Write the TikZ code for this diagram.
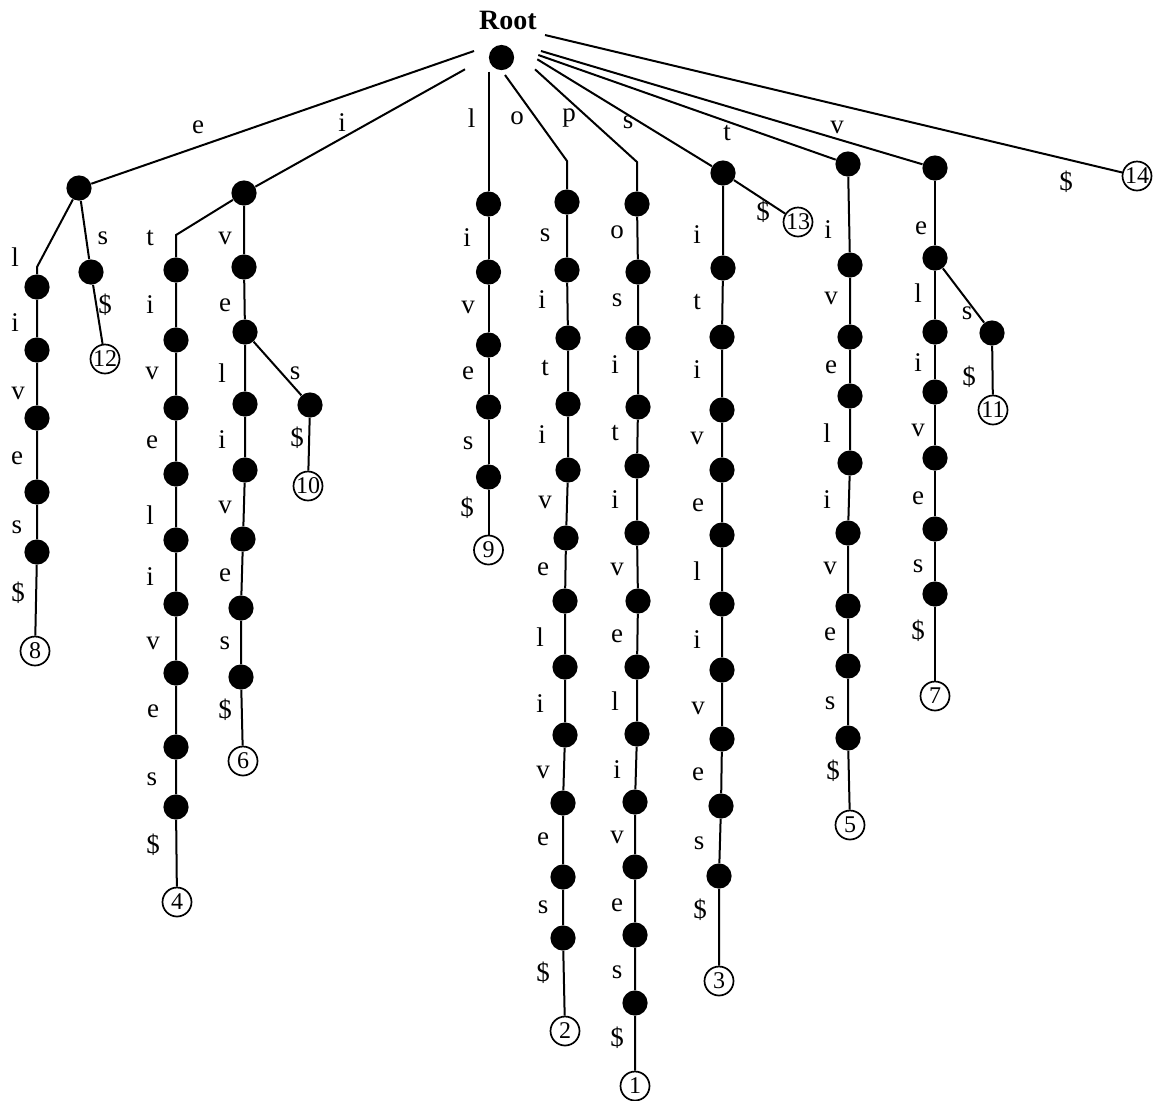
\documentclass[tikz,border=0pt]{standalone}
\usepackage{fontspec}
\setmainfont{Liberation Serif}
\newcommand\leafat[4]{\node[leaf] (#1) at (#2,#3) {}; \node[num] (#1n) at (#1) {#4};}
\begin{document}
\begin{tikzpicture}[x=0.5pt,y=-0.5pt,
  dot/.style={circle,fill=black,inner sep=0pt,minimum size=12.6pt},
  leaf/.style={circle,draw,line width=0.85pt,inner sep=0pt,minimum size=14.5pt},
  lab/.style={inner sep=0pt,font=\fontsize{13.5}{16}\selectfont},
  num/.style={inner sep=0pt,font=\fontsize{12}{14}\selectfont},
  edge/.style={line width=1pt}]
\useasboundingbox (0,0) rectangle (1166,1100);
% root
\node[dot] (R) at (501.5,57.5) {};
\node[inner sep=0pt,font=\fontsize{14}{16}\selectfont\bfseries] (Rt) at (508,20) {Root};
\coordinate (sE) at (474,51);
\coordinate (sI) at (465,69.3);
\coordinate (sL) at (488.5,71.7);
\coordinate (sO) at (505,75);
\coordinate (sP) at (535,69.3);
\coordinate (sS) at (537.3,59.3);
\coordinate (sT) at (538.3,55);
\coordinate (sV) at (541,51);
\coordinate (sD) at (545,35);
% branch nodes
\node[dot] (E) at (79,188) {};
\node[dot] (I) at (244,193) {};
\node[dot] (S) at (723,173) {};
\node[dot] (T) at (848,164) {};
\node[dot] (V) at (935,168) {};
\coordinate (cA) at (37,267);
\coordinate (cC) at (176,235);
\coordinate (cG) at (567,161);
\coordinate (cH) at (637,162);
% root edge labels
\foreach \t/\x/\y [count=\i] in {e/198/127, i/342/123, l/471.7/118, o/517/118, p/569/118, s/628/122, t/727/133, v/837/127, \$/1066/182}
  \node[lab] (RL\i) at (\x,\y) {\t};
% column A
\foreach \n/\x/\y in {1/37/287,2/37/350,3/37/418,4/37/492,5/37/552}
  \node[dot] (A\n) at (\x,\y) {};
\leafat{L8}{35}{651}{8}
\foreach \t/\x/\y [count=\i] in {l/15/257, i/15/323, v/18/393, e/17/458, s/17/527, \$/18/593}
  \node[lab] (AL\i) at (\x,\y) {\t};
% column B
\node[dot] (B1) at (91,272) {};
\leafat{L12}{105}{359}{12}
\node[lab] (BL1) at (103,238) {s};
\node[lab] (BL2) at (105,305) {\$};
% column C
\foreach \n/\y in {1/270,2/340,3/408,4/474,5/540,6/604,7/673,8/747,9/807}
  \node[dot] (C\n) at (176,\y) {};
\leafat{L4}{177}{902}{4}
\foreach \t/\x/\y [count=\i] in {t/150/238, i/150/305, v/152/373, e/152/442, l/150/515, i/150/577, v/153/643, e/153/711, s/152/779, \$/153/845}
  \node[lab] (CL\i) at (\x,\y) {\t};
% column D
\foreach \n/\x/\y in {1/244/267,2/245/332,3/245/404,4/245/470,5/243/539,6/241/608,7/241/677}
  \node[dot] (D\n) at (\x,\y) {};
\leafat{L6}{243}{761}{6}
\foreach \t/\x/\y [count=\i] in {v/225/238, e/225/305, l/222/373, i/222/440, v/225/507, e/225/575, s/225/643, \$/225/710}
  \node[lab] (DL\i) at (\x,\y) {\t};
% column E (s from D2)
\node[dot] (E1) at (310,405) {};
\leafat{L10}{308}{486}{10}
\node[lab] (EL1) at (295,373) {s};
\node[lab] (EL2) at (297,438) {\$};
% column F
\foreach \n/\y in {1/204,2/272,3/345,4/407,5/477}
  \node[dot] (F\n) at (488.5,\y) {};
\leafat{L9}{488.5}{550}{9}
\foreach \t/\x/\y [count=\i] in {i/467/238, v/468/307, e/468/373, s/468/443, \$/467/508}
  \node[lab] (FL\i) at (\x,\y) {\t};
% column G
\foreach \n/\x/\y in {1/567/202,2/567/270,3/568/338,4/568/404,5/568/470,6/566/538,7/565/601,8/565/667,9/565/735,10/563/803,11/563/877,12/563/938}
  \node[dot] (G\n) at (\x,\y) {};
\leafat{L2}{565}{1031}{2}
\foreach \t/\x/\y [count=\i] in {s/545/235, i/542/300, t/545/368, i/542/435, v/545/502, e/543/569, l/540/637, i/540/704, v/543/772, e/543/839, s/543/907, \$/543/973}
  \node[lab] (GL\i) at (\x,\y) {\t};
% column H
\foreach \n/\x/\y in {1/637/204,2/638/272,3/638/338,4/638/407,5/637/466,6/637/533,7/638/601,8/637/667,9/637/734,10/635/802,11/635/867,12/635/935,13/635/1003}
  \node[dot] (H\n) at (\x,\y) {};
\leafat{L1}{635}{1086}{1}
\foreach \t/\x/\y [count=\i] in {o/617/232, s/617/300, i/615/365, t/615/433, i/615/500, v/617/569, e/617/636, l/615/701, i/617/770, v/617/837, e/617/905, s/617/972, \$/617/1038}
  \node[lab] (HL\i) at (\x,\y) {\t};
% column I (from S)
\foreach \n/\x/\y in {1/723/268,2/722/337,3/722/410,4/722/470,5/722/535,6/722/604,7/722/670,8/722/739,9/721/806,10/719/876}
  \node[dot] (I\n) at (\x,\y) {};
\leafat{L3}{719}{981}{3}
\foreach \t/\x/\y [count=\i] in {i/697/235, t/697/302, i/697/370, v/697/438, e/698/505, l/697/571, i/697/640, v/698/708, e/698/774, s/699/843, \$/700/910}
  \node[lab] (IL\i) at (\x,\y) {\t};
\leafat{L13}{798}{222}{13}
\node[lab] (SL1) at (763,212) {\$};
% column J (from T)
\foreach \n/\x/\y in {1/850/265,2/850/337,3/850/396,4/850/463,5/848/533,6/848/606,7/848/666,8/848/738}
  \node[dot] (J\n) at (\x,\y) {};
\leafat{L5}{850}{825}{5}
\foreach \t/\x/\y [count=\i] in {i/828/230, v/831/298, e/831/367, l/827/433, i/827/500, v/830/568, e/830/634, s/830/703, \$/833/771}
  \node[lab] (JL\i) at (\x,\y) {\t};
% column K (from V)
\foreach \n/\y in {1/258,2/332,3/392,4/458,5/529,6/594}
  \node[dot] (K\n) at (935,\y) {};
\leafat{L7}{935}{696}{7}
\foreach \t/\x/\y [count=\i] in {e/921/228, l/918/293, i/918/363, v/918/430, e/918/498, s/918/566, \$/918/631}
  \node[lab] (KL\i) at (\x,\y) {\t};
% column L (s from K1)
\node[dot] (M1) at (992,333) {};
\leafat{L11}{993}{410}{11}
\node[lab] (ML1) at (967,313) {s};
\node[lab] (ML2) at (969,377) {\$};
% leaf 14
\leafat{L14}{1137}{176}{14}
% edges
\begin{scope}[edge]
\draw (sE) -- (E);
\draw (sI) -- (I);
\draw (sL) -- (F1);
\draw (sO) -- (cG) -- (G1);
\draw (sP) -- (cH) -- (H1);
\draw (sS) -- (S);
\draw (sT) -- (T);
\draw (sV) -- (V);
\draw (sD) -- (L14);
\draw (E) -- (cA) -- (A1) -- (A2) -- (A3) -- (A4) -- (A5) -- (L8);
\draw (E) -- (B1) -- (L12);
\draw (I) -- (cC) -- (C1) -- (C2) -- (C3) -- (C4) -- (C5) -- (C6) -- (C7) -- (C8) -- (C9) -- (L4);
\draw (I) -- (D1) -- (D2) -- (D3) -- (D4) -- (D5) -- (D6) -- (D7) -- (L6);
\draw (D2) -- (E1) -- (L10);
\draw (F1) -- (F2) -- (F3) -- (F4) -- (F5) -- (L9);
\draw (G1) -- (G2) -- (G3) -- (G4) -- (G5) -- (G6) -- (G7) -- (G8) -- (G9) -- (G10) -- (G11) -- (G12) -- (L2);
\draw (H1) -- (H2) -- (H3) -- (H4) -- (H5) -- (H6) -- (H7) -- (H8) -- (H9) -- (H10) -- (H11) -- (H12) -- (H13) -- (L1);
\draw (S) -- (I1) -- (I2) -- (I3) -- (I4) -- (I5) -- (I6) -- (I7) -- (I8) -- (I9) -- (I10) -- (L3);
\draw (S) -- (L13);
\draw (T) -- (J1) -- (J2) -- (J3) -- (J4) -- (J5) -- (J6) -- (J7) -- (J8) -- (L5);
\draw (V) -- (K1) -- (K2) -- (K3) -- (K4) -- (K5) -- (K6) -- (L7);
\draw (K1) -- (M1) -- (L11);
\end{scope}
\end{tikzpicture}
\end{document}
